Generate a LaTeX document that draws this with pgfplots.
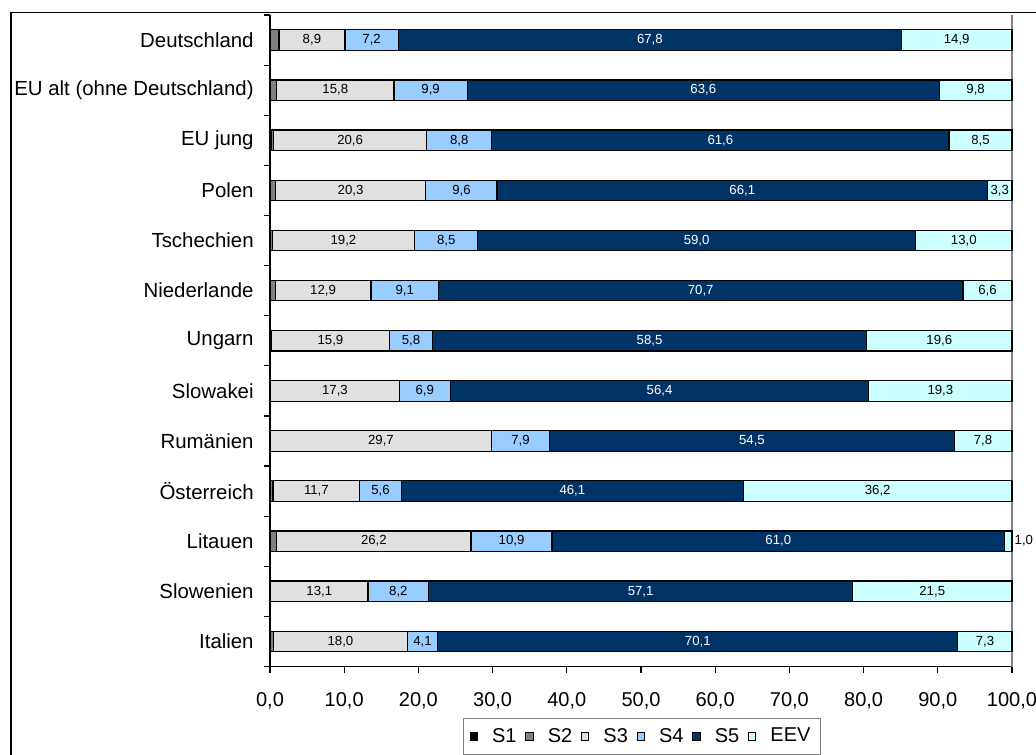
\documentclass[border=0pt]{standalone}
\usepackage{pgfplots}
\pgfplotsset{compat=1.18}
\usepackage{pgfplotstable}
\usepackage{fontspec}
\setmainfont{Liberation Sans}
\definecolor{cS1}{HTML}{000000}
\definecolor{cS2}{HTML}{808080}
\definecolor{cS3}{HTML}{E0E0E0}
\definecolor{cS4}{HTML}{99CCFF}
\definecolor{cS5}{HTML}{003366}
\definecolor{cEEV}{HTML}{CCFFFF}
\pgfplotstableread{
y S1 S2 S3 S4 S5 EEV
0 0.1 1.1 8.9 7.2 67.8 14.9
1 0.1 0.8 15.8 9.9 63.6 9.8
2 0.2 0.3 20.6 8.8 61.6 8.5
3 0.1 0.6 20.3 9.6 66.1 3.3
4 0.0 0.3 19.2 8.5 59.0 13.0
5 0.1 0.6 12.9 9.1 70.7 6.6
6 0.0 0.2 15.9 5.8 58.5 19.6
7 0.0 0.1 17.3 6.9 56.4 19.3
8 0.0 0.1 29.7 7.9 54.5 7.8
9 0.1 0.3 11.7 5.6 46.1 36.2
10 0.1 0.8 26.2 10.9 61.0 1.0
11 0.0 0.1 13.1 8.2 57.1 21.5
12 0.1 0.4 18.0 4.1 70.1 7.3
}\datatable
\pgfplotsset{
  lbl/.style 2 args={
    nodes near coords={\pgfmathprintnumber{\pgfplotspointmeta}},
    point meta=explicit,
    visualization depends on={\thisrow{#1} \as \val},
    every node near coord/.style={anchor=center, inner sep=0pt, text=#2,
      font=\fontsize{6.6}{7}\selectfont,
      xshift={ifthenelse(\val<2,7.8,0)*1pt}}
  }
}
\begin{document}
\begin{tikzpicture}
\begin{axis}[
  at={(135pt,43.75pt)}, anchor=south west,
  scale only axis, width=371pt, height=325.75pt,
  xbar stacked, bar width=10.25pt,
  clip=false,
  xmin=0, xmax=100, ymin=-0.5, ymax=12.5, y dir=reverse,
  axis x line*=bottom, axis y line*=left,
  axis line style={black, line width=0.6pt, -},
  tick align=outside, major tick length=3pt, minor tick length=3pt,
  tick style={black, line width=0.6pt},
  xtick={0,10,...,100},
  ytick={0,...,12},
  yticklabels={Deutschland, EU alt (ohne Deutschland), EU jung, Polen, Tschechien, Niederlande, Ungarn, Slowakei, Rumänien, Österreich, Litauen, Slowenien, Italien},
  minor ytick={-0.5,0.5,...,12.5},
  every major y tick/.style={draw=none},
  /pgf/number format/.cd, use comma, fixed, fixed zerofill, precision=1, 1000 sep={}, assume math mode=true,
  /pgfplots/.cd,
  yticklabel style={inner sep=0pt, xshift=-5pt, font=\fontsize{10.2}{12}\selectfont},
  xticklabel style={inner sep=0pt, anchor=north, yshift=-9.8pt, font=\fontsize{10}{12}\selectfont},
  legend columns=6,
  legend style={at={(0.26,-0.0783)}, anchor=north west, draw=gray, line width=0.6pt,
    inner xsep=3pt, inner ysep=3pt, font=\fontsize{10}{12}\selectfont,
    /tikz/every odd column/.append style={column sep=5pt},
    /tikz/every even column/.append style={column sep=2.3pt}},
  legend image code/.code={\draw[#1, draw=black, line width=0.5pt] (0pt,-1.9pt) rectangle (3.8pt,1.9pt);},
]
\addplot[fill=cS1, draw=black, line width=0.6pt] table[x=S1,y=y]{\datatable};
\addplot[fill=cS2, draw=black, line width=0.6pt] table[x=S2,y=y]{\datatable};
\addplot[fill=cS3, draw=black, line width=0.6pt, lbl={S3}{black}] table[x=S3,y=y,meta=S3]{\datatable};
\addplot[fill=cS4, draw=black, line width=0.6pt, lbl={S4}{black}] table[x=S4,y=y,meta=S4]{\datatable};
\addplot[fill=cS5, draw=black, line width=0.6pt, lbl={S5}{white}] table[x=S5,y=y,meta=S5]{\datatable};
\addplot[fill=cEEV, draw=black, line width=0.6pt, lbl={EEV}{black}] table[x=EEV,y=y,meta=EEV]{\datatable};
\legend{S1,S2,S3,S4,S5,EEV}
\draw[gray, line width=0.7pt] (axis cs:100,-0.5) -- (axis cs:100,12.5);
\end{axis}
\draw[black, line width=0.7pt] (5.5pt,-10pt) -- (5.5pt,370.65pt) -- (540pt,370.65pt);
\pgfresetboundingbox
\useasboundingbox (0,0) rectangle (518pt,377pt);
\end{tikzpicture}
\end{document}
